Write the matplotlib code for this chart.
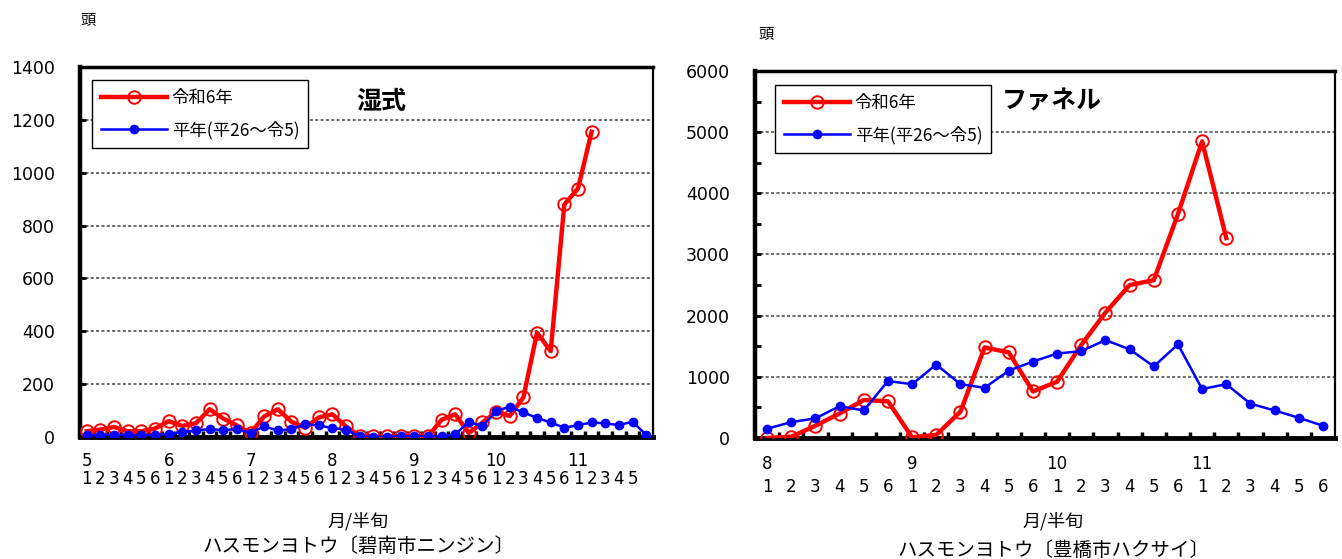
import numpy as np
import matplotlib
matplotlib.use('Agg')
import matplotlib.pyplot as plt
import matplotlib.transforms as mtransforms
from matplotlib.ticker import MultipleLocator, FixedLocator

plt.rcParams['font.family'] = ['Noto Sans CJK JP', 'DejaVu Sans']

#%% Data
# 碧南市ニンジン (湿式): 5月1半旬 ~ 11月6半旬
wet_months = ['5', '6', '7', '8', '9', '10', '11']
wet_r6 = [22, 28, 38, 22, 22, 32, 60, 42, 52, 105, 70, 44,
          15, 78, 105, 58, 35, 74, 86, 40, 3, 2, 2, 3,
          2, 2, 65, 86, 15, 55, 95, 80, 150, 395, 325, 880,
          940, 1155]
wet_avg = [8, 7, 9, 7, 8, 7, 12, 18, 25, 30, 26, 30,
           16, 40, 25, 29, 48, 44, 34, 28, 2, 1, 1, 2,
           2, 2, 3, 10, 58, 40, 98, 115, 93, 72, 55, 35,
           45, 55, 52, 45, 58, 8]
wet_halves = ['1', '2', '3', '4', '5', '6'] * 6 + ['1', '2', '3', '4', '5']

# 豊橋市ハクサイ (ファネル): 8月1半旬 ~ 11月6半旬
fun_months = ['8', '9', '10', '11']
fun_r6 = [0, 20, 200, 400, 620, 600, 10, 50, 430, 1480, 1400, 760,
          920, 1520, 2050, 2500, 2580, 3660, 4850, 3270]
fun_avg = [150, 260, 320, 520, 450, 930, 880, 1200, 880, 820, 1100, 1250,
           1380, 1420, 1600, 1450, 1170, 1530, 800, 880, 560, 450, 330, 200]
fun_halves = ['1', '2', '3', '4', '5', '6'] * 4

label_r6 = '令和6年'
label_avg = '平年(平26～令5)'

#%% Plot
fig = plt.figure(figsize=(13.42, 5.59), dpi=100)
ax1 = fig.add_axes([0.0596, 0.2182, 0.427, 0.662])
ax2 = fig.add_axes([0.5626, 0.2165, 0.4322, 0.6565])


def draw_panel(ax, r6, avg, ymax, ystep, yminor, months, halves,
               month_y, half_pad, title, title_xy):
    n_cat = len(avg)
    ax.plot(np.arange(len(r6)), r6, color='#ff0000', lw=3.2, marker='o', ms=9,
            mfc='none', mec='#ff0000', mew=1.4, label=label_r6, zorder=3)
    ax.plot(np.arange(n_cat), avg, color='#0000ff', lw=1.8, marker='o', ms=6,
            mfc='#0000ff', mec='#0000ff', label=label_avg, zorder=4)

    ax.set_xlim(-0.5, n_cat - 0.5)
    ax.set_ylim(0, ymax)

    ax.yaxis.set_major_locator(MultipleLocator(ystep))
    if yminor:
        ax.yaxis.set_minor_locator(MultipleLocator(yminor))
    ax.grid(axis='y', color='#444444', lw=1.1, ls=(0, (2, 1.5)))
    ax.set_axisbelow(True)

    # half-month numbers as tick labels, month numbers in a row above them
    pos = np.arange(len(halves))
    ax.xaxis.set_major_locator(FixedLocator(pos))
    ax.set_xticklabels(halves, family='DejaVu Sans', fontsize=12)
    ax.xaxis.set_minor_locator(FixedLocator(np.arange(n_cat - 1) + 0.5))
    ax.tick_params(axis='x', which='major', length=0, pad=half_pad)
    ax.tick_params(axis='x', which='minor', direction='in', length=4, width=2.5)
    ax.tick_params(axis='y', which='both', direction='in', length=4, width=2,
                   pad=18, labelsize=12.5, labelfontfamily='DejaVu Sans')
    trans = mtransforms.blended_transform_factory(ax.transData, ax.transAxes)
    for k, m in enumerate(months):
        ax.text(pos[k * 6], month_y, m, transform=trans, ha='center', va='center',
                family='DejaVu Sans', fontsize=12)

    ax.spines['left'].set_linewidth(3.2)
    ax.spines['bottom'].set_linewidth(3.5)
    ax.spines['top'].set_linewidth(2.5)
    ax.spines['right'].set_linewidth(1.6)

    ax.text(title_xy[0], title_xy[1], title, transform=ax.transAxes,
            ha='center', va='center', fontsize=18, fontweight='bold')


draw_panel(ax1, wet_r6, wet_avg, 1400, 200, None, wet_months, wet_halves,
           -0.065, 24, '湿式', (0.525, 0.905))
draw_panel(ax2, fun_r6, fun_avg, 6000, 1000, 500, fun_months, fun_halves,
           -0.07, 29, 'ファネル', (0.512, 0.916))

for ax, anchor in [(ax1, (0.021, 0.965)), (ax2, (0.0345, 0.962))]:
    leg = ax.legend(loc='upper left', bbox_to_anchor=anchor, fontsize=12.5,
                    handlelength=3.8, handletextpad=0.3, labelspacing=0.8,
                    borderpad=0.5, fancybox=False, framealpha=1,
                    edgecolor='black', borderaxespad=0)
    leg.get_frame().set_linewidth(1.0)

# units and axis captions
fig.text(0.0656, 0.964, '頭', fontsize=11, ha='center', va='center')
fig.text(0.571, 0.939, '頭', fontsize=11, ha='center', va='center')
fig.text(0.267, 0.068, '月/半旬', fontsize=13, ha='center', va='center')
fig.text(0.785, 0.068, '月/半旬', fontsize=13, ha='center', va='center')
fig.text(0.267, 0.023, 'ハスモンヨトウ〔碧南市ニンジン〕', fontsize=14,
         ha='center', va='center')
fig.text(0.785, 0.016, 'ハスモンヨトウ〔豊橋市ハクサイ〕', fontsize=14,
         ha='center', va='center')

fig.savefig('out.png', dpi=100)
